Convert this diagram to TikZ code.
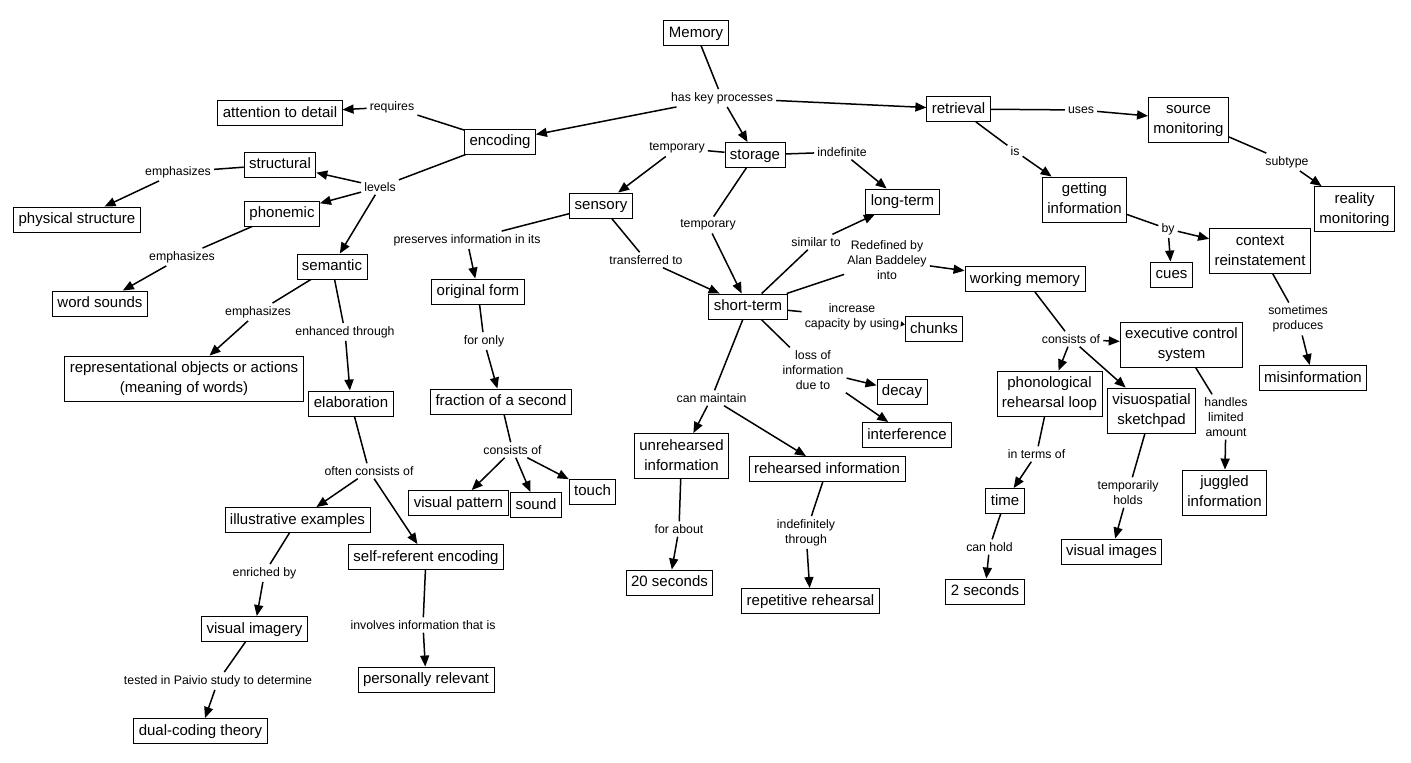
\documentclass[tikz,border=0pt]{standalone}
\usepackage{fontspec}
\setmainfont{Liberation Sans}
\usetikzlibrary{arrows.meta}
\newcommand\bxf{\fontsize{15}{20}\selectfont}
\newcommand\lbf{\fontsize{12.3}{15}\selectfont}
\begin{document}
\begin{tikzpicture}[x=1pt,y=-1pt,
  box/.style={draw, line width=0.9pt, fill=white, font=\bxf, inner xsep=5pt, inner ysep=2.5pt, text height=14pt, text depth=6pt},
  boxm/.style={draw, line width=0.9pt, fill=white, font=\bxf, inner xsep=5pt, inner ysep=2.5pt, align=center},
  lbl/.style={font=\lbf, inner sep=3pt, align=center},
  ln/.style={line width=1.5pt},
  arr/.style={line width=1.5pt, -{Triangle[length=11pt,width=9pt]}},
  sarr/.style={line width=1.5pt, -{Triangle[length=4pt,width=5pt]}}]
\useasboundingbox (0,0) rectangle (1411,763);
\fill[white] (0,0) rectangle (1411,763);
% nodes
\node[box] (mem) at (696,33) {Memory};
\node[lbl] (hkp) at (722,98) {has key processes};
\node[box] (enc) at (500,141.5) {encoding};
\node[box] (sto) at (755,155) {storage};
\node[box] (ret) at (958.5,109) {retrieval};
\node[lbl] (req) at (392,107) {requires};
\node[box] (att) at (280,113) {attention to detail};
\node[lbl] (lev) at (380,187) {levels};
\node[box] (str) at (280,164.5) {structural};
\node[box] (pho) at (282,213.5) {phonemic};
\node[box] (sem) at (332,266.5) {semantic};
\node[lbl] (em1) at (178,172) {emphasizes};
\node[box] (phs) at (77,219.5) {physical structure};
\node[lbl] (em2) at (182,257) {emphasizes};
\node[box] (wsd) at (100,303.5) {word sounds};
\node[lbl] (em3) at (258,312) {emphasizes};
\node[boxm] (rep) at (184,378.5) {\strut representational objects or actions\\\strut(meaning of words)};
\node[lbl] (enh) at (345,332) {enhanced through};
\node[box] (ela) at (351,403.5) {elaboration};
\node[lbl] (oco) at (369,471) {often consists of};
\node[box] (ill) at (297.5,520) {illustrative examples};
\node[box] (sre) at (426,557) {self-referent encoding};
\node[lbl] (enr) at (264.5,573) {enriched by};
\node[box] (vim) at (254.5,629) {visual imagery};
\node[lbl] (tst) at (218,681) {tested in Paivio study to determine};
\node[box] (dct) at (200.5,731) {dual-coding theory};
\node[lbl] (inv) at (423,625) {involves information that is};
\node[box] (per) at (426,679.5) {personally relevant};
\node[lbl] (tm1) at (677,148) {temporary};
\node[box] (sen) at (601,205.5) {sensory};
\node[lbl] (ind) at (842,152) {indefinite};
\node[box] (lt) at (902.5,201.5) {long-term};
\node[lbl] (tm2) at (708,225) {temporary};
\node[box] (st) at (748,306.5) {short-term};
\node[lbl] (pre) at (467,240) {preserves information in its};
\node[box] (org) at (478,291.5) {original form};
\node[lbl] (trf) at (646,260) {transferred to};
\node[lbl] (fon) at (484,341) {for only};
\node[box] (fra) at (501,401.5) {fraction of a second};
\node[lbl] (co1) at (512.5,450) {consists of};
\node[box] (vpt) at (458.5,503) {visual pattern};
\node[box] (snd) at (536,505) {sound};
\node[box] (tch) at (592.5,491.5) {touch};
\node[lbl] (sim) at (816,242) {similar to};
\node[lbl] (rdf) at (887,260) {Redefined by\\Alan Baddeley\\into};
\node[box] (wm) at (1025,279) {working memory};
\node[lbl] (inc) at (852,316.5) {increase\\capacity by using};
\node[box] (chk) at (934,329) {chunks};
\node[lbl] (los) at (813,370) {loss of\\information\\due to};
\node[box] (dec) at (902,391.5) {decay};
\node[box] (itf) at (907,435) {interference};
\node[lbl] (cm) at (711.5,398) {can maintain};
\node[boxm] (unr) at (681.5,456) {\strut unrehearsed\\\strut information};
\node[box] (reh) at (827,469) {rehearsed information};
\node[lbl] (fab) at (679,529) {for about};
\node[box] (s20) at (669.5,582.5) {20 seconds};
\node[lbl] (idf) at (806,532.5) {indefinitely\\through};
\node[box] (rpr) at (810.5,601) {repetitive rehearsal};
\node[lbl] (use) at (1081,110) {uses};
\node[boxm] (som) at (1188.5,119.5) {\strut source\\\strut monitoring};
\node[lbl] (is) at (1015,151) {is};
\node[lbl] (sub) at (1287,162) {subtype};
\node[boxm] (rmo) at (1354.5,209) {\strut reality\\\strut monitoring};
\node[boxm] (get) at (1084.5,199.5) {\strut getting\\\strut information};
\node[lbl] (by) at (1168,229) {by};
\node[box] (cue) at (1171.5,274.5) {cues};
\node[boxm] (ctx) at (1260,251) {\strut context\\\strut reinstatement};
\node[lbl] (smp) at (1298,319) {sometimes\\produces};
\node[box] (mis) at (1313,378) {misinformation};
\node[lbl] (co2) at (1071,339) {consists of};
\node[boxm] (exe) at (1181.5,344.5) {\strut executive control\\\strut system};
\node[boxm] (phl) at (1049.5,393.5) {\strut phonological\\\strut rehearsal loop};
\node[boxm] (vss) at (1151.5,410.5) {\strut visuospatial\\\strut sketchpad};
\node[lbl] (hla) at (1226,417) {handles\\limited\\amount};
\node[boxm] (jug) at (1224.5,492.5) {\strut juggled\\\strut information};
\node[lbl] (itm) at (1036.5,454) {in terms of};
\node[box] (tim) at (1005,501) {time};
\node[lbl] (tph) at (1128,492.5) {temporarily\\holds};
\node[box] (vis) at (1111.5,551.5) {visual images};
\node[lbl] (chd) at (989.5,547) {can hold};
\node[box] (s2) at (985,591.5) {2 seconds};
% connectors
\draw[ln] (mem) -- (hkp);
\draw[arr] (hkp) -- (enc);
\draw[arr] (hkp) -- (sto);
\draw[arr] (hkp) -- (ret);
\draw[ln] (enc) -- (req); \draw[arr] (req) -- (att);
\draw[ln] (enc) -- (lev);
\draw[arr] (lev) -- (str); \draw[arr] (lev) -- (pho); \draw[arr] (lev) -- (sem);
\draw[ln] (str) -- (em1); \draw[arr] (em1) -- (phs);
\draw[ln] (pho) -- (em2); \draw[arr] (em2) -- (wsd);
\draw[ln] (sem) -- (em3); \draw[arr] (em3) -- (rep);
\draw[ln] (sem) -- (enh); \draw[arr] (enh) -- (ela);
\draw[ln] (ela) -- (oco); \draw[arr] (oco) -- (ill); \draw[arr] (oco) -- (sre);
\draw[ln] (ill) -- (enr); \draw[arr] (enr) -- (vim);
\draw[ln] (vim) -- (tst); \draw[arr] (tst) -- (dct);
\draw[ln] (sre) -- (inv); \draw[arr] (inv) -- (per);
\draw[ln] (sto) -- (tm1); \draw[arr] (tm1) -- (sen);
\draw[ln] (sto) -- (ind); \draw[arr] (ind) -- (lt);
\draw[ln] (sto) -- (tm2); \draw[arr] (tm2) -- (st);
\draw[ln] (sen) -- (pre); \draw[arr] (pre) -- (org);
\draw[ln] (sen) -- (trf); \draw[arr] (trf) -- (st);
\draw[ln] (org) -- (fon); \draw[arr] (fon) -- (fra);
\draw[ln] (fra) -- (co1); \draw[arr] (co1) -- (vpt); \draw[arr] (co1) -- (snd); \draw[arr] (co1) -- (tch);
\draw[ln] (st) -- (sim); \draw[arr] (sim) -- (lt);
\draw[ln] (st) -- (rdf); \draw[arr] (rdf) -- (wm);
\draw[ln] (st) -- (inc); \draw[sarr] (inc) -- (chk);
\draw[ln] (st) -- (los); \draw[arr] (los) -- (dec); \draw[arr] (los) -- (itf);
\draw[ln] (st) -- (cm); \draw[arr] (cm) -- (unr); \draw[arr] (cm) -- (reh);
\draw[ln] (unr) -- (fab); \draw[arr] (fab) -- (s20);
\draw[ln] (reh) -- (idf); \draw[arr] (idf) -- (rpr);
\draw[ln] (ret) -- (use); \draw[arr] (use) -- (som);
\draw[ln] (ret) -- (is); \draw[arr] (is) -- (get);
\draw[ln] (som) -- (sub); \draw[arr] (sub) -- (rmo);
\draw[ln] (get) -- (by); \draw[arr] (by) -- (cue); \draw[arr] (by) -- (ctx);
\draw[ln] (ctx) -- (smp); \draw[arr] (smp) -- (mis);
\draw[ln] (wm) -- (co2); \draw[arr] (co2) -- (phl); \draw[arr] (co2) -- (vss); \draw[arr] (co2) -- (exe);
\draw[ln] (exe) -- (hla); \draw[arr] (hla) -- (jug);
\draw[ln] (phl) -- (itm); \draw[arr] (itm) -- (tim);
\draw[ln] (tim) -- (chd); \draw[arr] (chd) -- (s2);
\draw[ln] (vss) -- (tph); \draw[arr] (tph) -- (vis);
\end{tikzpicture}
\end{document}
